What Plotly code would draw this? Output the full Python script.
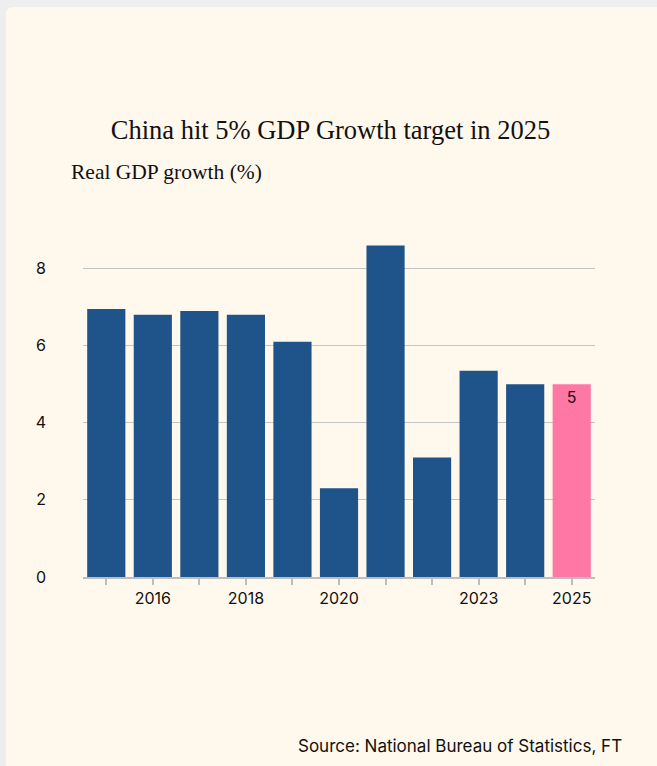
import plotly.graph_objects as go

years = ["2015", "2016", "2017", "2018", "2019", "2020", "2021", "2022", "2023", "2024", "2025"]
growth = [6.95, 6.8, 6.9, 6.8, 6.1, 2.3, 8.6, 3.1, 5.35, 5.0, 5.0]
tick_labels = ["", "2016", "", "2018", "", "2020", "", "", "2023", "", "2025"]
bar_text = ["", "", "", "", "", "", "", "", "", "", "5"]

NAVY = "#1f548a"
PINK = "#ff77a5"
CREAM = "#fff8ec"
GRAY_BG = "#eeeeee"
colors = [NAVY] * (len(years) - 1) + [PINK]

W, H = 657, 766
L, R, T, B = 83, 62, 230, 189
pw, ph = W - L - R, H - T - B

def px_x(x):
    return (x - L) / pw

def px_y(y):
    return (H - B - y) / ph

fig = go.Figure()
fig.add_trace(go.Bar(
    x=years, y=growth, marker_color=colors, marker_line_width=0,
    text=bar_text, textposition="inside", insidetextanchor="end",
    textfont=dict(family="Inter", size=16, color="#111111"),
    hoverinfo="x+y", showlegend=False,
))

# card background with rounded top-left corner
x0, y0 = px_x(6), px_y(7)
x1, y1 = px_x(W + 10), px_y(H + 10)
rx, ry = 8 / pw, 8 / ph
path = (f"M {x0},{y1} L {x0},{y0 - ry} Q {x0},{y0} {x0 + rx},{y0} "
        f"L {x1},{y0} L {x1},{y1} Z")
fig.add_shape(type="path", path=path, xref="paper", yref="paper",
              fillcolor=CREAM, line=dict(width=0), layer="below")

fig.update_layout(
    width=W, height=H,
    margin=dict(l=L, r=R, t=T, b=B, pad=0),
    paper_bgcolor=GRAY_BG, plot_bgcolor="rgba(0,0,0,0)",
    bargap=0.18,
    title=dict(text="China hit 5% GDP Growth target in 2025",
               x=0.503, xref="container", xanchor="center",
               y=1 - 130 / H, yref="container", yanchor="middle",
               font=dict(family="Liberation Serif", size=26.5, color="#111111")),
    annotations=[
        dict(text="Real GDP growth (%)", xref="paper", yref="paper",
             x=px_x(69), y=px_y(172), xanchor="left", yanchor="middle",
             showarrow=False,
             font=dict(family="Liberation Serif", size=21.5, color="#111111")),
        dict(text="Source: National Bureau of Statistics, FT", xref="paper", yref="paper",
             x=px_x(624), y=px_y(746), xanchor="right", yanchor="middle",
             showarrow=False,
             font=dict(family="Inter", size=17, color="#111111")),
    ],
    font=dict(family="Inter", size=16, color="#111111"),
)

fig.update_xaxes(
    type="category", tickmode="array", tickvals=years, ticktext=tick_labels,
    ticks="outside", ticklen=6, tickwidth=2, tickcolor="#bdbdbd",
    showline=True, linecolor="#bdbdbd", linewidth=2,
    showgrid=False, tickfont=dict(family="Inter", size=16, color="#111111"),
)
fig.update_yaxes(
    range=[0, 9], tickvals=[0, 2, 4, 6, 8],
    showgrid=True, gridcolor="#c4c4c4", gridwidth=1,
    zeroline=False, showline=False, ticks="",
    ticklabelstandoff=36,
    tickfont=dict(family="Inter", size=16, color="#111111"),
)

fig.write_html("out.html")
